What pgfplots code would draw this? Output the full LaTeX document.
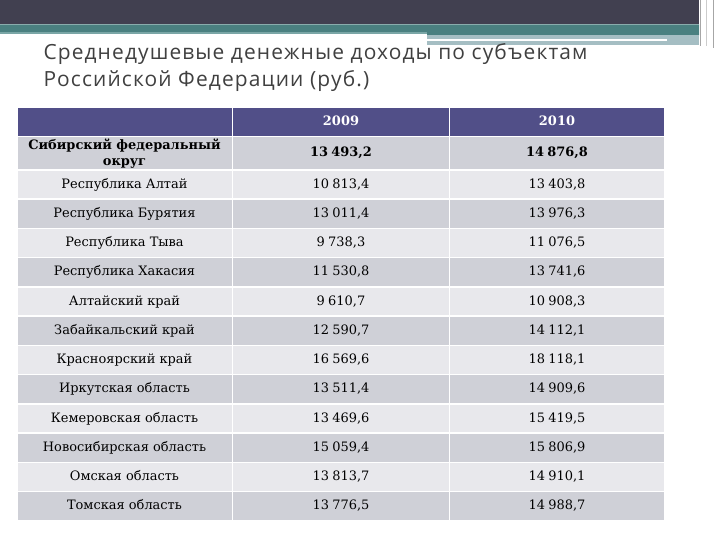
\documentclass[border=0pt]{standalone}
\usepackage{fontspec}
\setmainfont{DejaVu Serif}
\newfontfamily\titlefont[LetterSpace=5.4]{Open Sans}
\usepackage{pgfplots}
\usepackage{pgfplotstable}
\pgfplotsset{compat=1.18}

\definecolor{banner}{RGB}{65,64,80}
\definecolor{teal1}{RGB}{74,128,128}
\definecolor{teal2}{RGB}{122,166,166}
\definecolor{pale}{RGB}{165,190,195}
\definecolor{hdr}{RGB}{81,79,136}
\definecolor{rowdark}{RGB}{207,208,215}
\definecolor{rowlight}{RGB}{232,232,236}
\definecolor{titlegray}{RGB}{64,64,64}

% i = row number below the total row
\pgfplotstableread[col sep=semicolon,row sep=\\]{
i;name;a;b\\
1;Республика Алтай;10813.4;13403.8\\
2;Республика Бурятия;13011.4;13976.3\\
3;Республика Тыва;9738.3;11076.5\\
4;Республика Хакасия;11530.8;13741.6\\
5;Алтайский край;9610.7;10908.3\\
6;Забайкальский край;12590.7;14112.1\\
7;Красноярский край;16569.6;18118.1\\
8;Иркутская область;13511.4;14909.6\\
9;Кемеровская область;13469.6;15419.5\\
10;Новосибирская область;15059.4;15806.9\\
11;Омская область;13813.7;14910.1\\
12;Томская область;13776.5;14988.7\\
}\regions

\tikzset{
  cell/.style={draw=white, line width=1.5bp},
  lbl/.style={anchor=center, font=\fontsize{13}{16}\selectfont, text=black, align=center},
  one/.style={text height=9.5bp, text depth=2.5bp},
  num/.style={/pgf/number format/.cd, fixed, fixed zerofill, precision=1,
    use comma, 1000 sep={\kern0.25em}, assume math mode=true}}

\begin{document}
\begin{tikzpicture}
\begin{axis}[scale only axis, width=720bp, height=540bp,
  xmin=0, xmax=720, ymin=0, ymax=540, y dir=reverse,
  hide axis, clip=false]

% page and banner
\addplot[fill=white, draw=none] coordinates {(0,0) (720,0) (720,540) (0,540)} --cycle;
\addplot[fill=banner, draw=none] coordinates {(0,0) (699,0) (699,24) (0,24)} --cycle;
\addplot[fill=teal1, draw=none] coordinates {(0,24) (699,24) (699,35) (427,35) (427,31.5) (0,31.5)} --cycle;
\addplot[fill=teal2, draw=none] coordinates {(0,31.5) (427,31.5) (427,34) (0,34)} --cycle;
\addplot[fill=pale, draw=none] coordinates {(427,35) (699,35) (699,45) (427,45)} --cycle;
\addplot[draw=white, line width=2.5bp] coordinates {(427,39.7) (667,39.7)};
\addplot[draw=gray!70, line width=0.8bp] coordinates {(700.5,0) (700.5,46)};
\addplot[draw=gray!40, line width=0.8bp] coordinates {(706,0) (706,46)};
\addplot[draw=gray!70, line width=0.8bp] coordinates {(713,0) (713,48)};

% table background
\addplot[cell, fill=hdr] coordinates {(17,107) (665,107) (665,136) (17,136)} --cycle;
\addplot[cell, fill=rowdark] coordinates {(17,136) (665,136) (665,169.5) (17,169.5)} --cycle;
\addplot[cell, fill=rowlight] coordinates {(17,169.5) (665,169.5) (665,198.75) (17,198.75)} --cycle;
\addplot[cell, fill=rowdark] coordinates {(17,198.75) (665,198.75) (665,228) (17,228)} --cycle;
\addplot[cell, fill=rowlight] coordinates {(17,228) (665,228) (665,257.25) (17,257.25)} --cycle;
\addplot[cell, fill=rowdark] coordinates {(17,257.25) (665,257.25) (665,286.5) (17,286.5)} --cycle;
\addplot[cell, fill=rowlight] coordinates {(17,286.5) (665,286.5) (665,315.75) (17,315.75)} --cycle;
\addplot[cell, fill=rowdark] coordinates {(17,315.75) (665,315.75) (665,345) (17,345)} --cycle;
\addplot[cell, fill=rowlight] coordinates {(17,345) (665,345) (665,374.25) (17,374.25)} --cycle;
\addplot[cell, fill=rowdark] coordinates {(17,374.25) (665,374.25) (665,403.5) (17,403.5)} --cycle;
\addplot[cell, fill=rowlight] coordinates {(17,403.5) (665,403.5) (665,432.75) (17,432.75)} --cycle;
\addplot[cell, fill=rowdark] coordinates {(17,432.75) (665,432.75) (665,462) (17,462)} --cycle;
\addplot[cell, fill=rowlight] coordinates {(17,462) (665,462) (665,491.25) (17,491.25)} --cycle;
\addplot[cell, fill=rowdark] coordinates {(17,491.25) (665,491.25) (665,520.5) (17,520.5)} --cycle;
\addplot[draw=white, line width=1.5bp] coordinates {(232.5,107) (232.5,520.5)};
\addplot[draw=white, line width=1.5bp] coordinates {(449.5,107) (449.5,520.5)};

% header and total row labels
\node[lbl, one, text=white] at (axis cs:341,121.5) {\textbf{2009}};
\node[lbl, one, text=white] at (axis cs:557,121.5) {\textbf{2010}};
\node[lbl] at (axis cs:124.5,153) {\textbf{Сибирский федеральный}\\\textbf{округ}};

% total row values
\addplot[draw=none, mark=none, point meta=explicit, nodes near coords,
  every node near coord/.style={lbl, one, font=\fontsize{13}{16}\selectfont\bfseries, num}]
  coordinates {(341,153) [13493.2]};
\addplot[draw=none, mark=none, point meta=explicit, nodes near coords,
  every node near coord/.style={lbl, one, font=\fontsize{13}{16}\selectfont\bfseries, num}]
  coordinates {(557,153) [14876.8]};

% regions
\addplot[draw=none, mark=none, point meta=explicit symbolic, nodes near coords,
  every node near coord/.style={lbl, one}]
  table[x expr=124.5, y expr=169.5+29.25*(\thisrow{i}-0.5), meta=name] {\regions};
\addplot[draw=none, mark=none, point meta=explicit, nodes near coords,
  every node near coord/.style={lbl, one, num}]
  table[x expr=341, y expr=169.5+29.25*(\thisrow{i}-0.5), meta=a] {\regions};
\addplot[draw=none, mark=none, point meta=explicit, nodes near coords,
  every node near coord/.style={lbl, one, num}]
  table[x expr=557, y expr=169.5+29.25*(\thisrow{i}-0.5), meta=b] {\regions};

% title
\node[anchor=base west, font=\titlefont\fontsize{21}{24}\selectfont, text=titlegray]
  at (axis cs:40,59) {Среднедушевые денежные доходы по субъектам};
\node[anchor=base west, font=\titlefont\fontsize{21}{24}\selectfont, text=titlegray]
  at (axis cs:40,86) {Российской Федерации (руб.)};
\end{axis}
\end{tikzpicture}
\end{document}
